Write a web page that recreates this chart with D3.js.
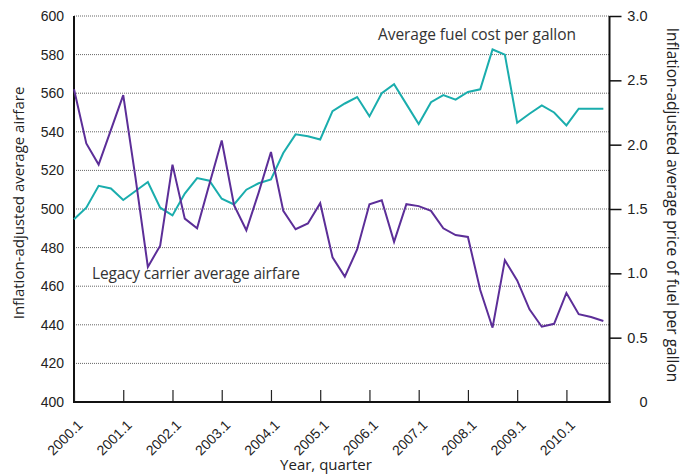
<!DOCTYPE html>
<html>
<head>
<meta charset="utf-8">
<script src="https://cdn.jsdelivr.net/npm/d3@7"></script>
<style>
  body { margin: 0; background: #fff; }
  svg { display: block; font-family: "Open Sans", sans-serif; }
</style>
</head>
<body>
<div id="vizcont"></div>
<script>
// quarters, 2000.1 .. 2010.4
var quarters = [
  "2000.1","2000.2","2000.3","2000.4","2001.1","2001.2","2001.3","2001.4",
  "2002.1","2002.2","2002.3","2002.4","2003.1","2003.2","2003.3","2003.4",
  "2004.1","2004.2","2004.3","2004.4","2005.1","2005.2","2005.3","2005.4",
  "2006.1","2006.2","2006.3","2006.4","2007.1","2007.2","2007.3","2007.4",
  "2008.1","2008.2","2008.3","2008.4","2009.1","2009.2","2009.3","2009.4",
  "2010.1","2010.2","2010.3","2010.4"
];
// legacy carrier average airfare (left axis)
var airfare = [
  562, 534, 523, 541, 559, 516, 470, 481,
  523, 495, 490, 513, 535.5, 502, 489, 508.5,
  529.5, 499, 489.5, 492.5, 503, 475, 465, 479,
  502.5, 504.5, 483, 502.5, 501.5, 499, 490, 486.5,
  485.5, 458, 438.5, 473.5, 463, 448, 439, 440.5,
  456.5, 445.5, 444, 442
];
// average fuel cost per gallon (right axis)
var fuel = [
  1.42, 1.51, 1.68, 1.66, 1.57, 1.64, 1.71, 1.51,
  1.45, 1.62, 1.74, 1.72, 1.58, 1.535, 1.65, 1.70,
  1.73, 1.935, 2.08, 2.065, 2.04, 2.26, 2.32, 2.37,
  2.22, 2.40, 2.47, 2.315, 2.16, 2.33, 2.385, 2.35,
  2.41, 2.43, 2.74, 2.70, 2.17, 2.24, 2.305, 2.25,
  2.15, 2.28, 2.28, 2.28
];
var leftTicks = [400, 420, 440, 460, 480, 500, 520, 540, 560, 580, 600];
var rightTicks = [0, 0.5, 1.0, 1.5, 2.0, 2.5, 3.0];
var xTickLabels = ["2000.1","2001.1","2002.1","2003.1","2004.1","2005.1","2006.1","2007.1","2008.1","2009.1","2010.1"];

var W = 683, H = 475;
var margin = {top: 16, right: 74, bottom: 73, left: 74};
var width = 609.5 - margin.left;
var height = 402 - margin.top;

var svg = d3.select("#vizcont").append("svg")
    .attr("width", W)
    .attr("height", H);
var g = svg.append("g")
    .attr("transform", "translate(" + margin.left + "," + margin.top + ")");

var x = d3.scaleLinear().domain([0, quarters.length - 0.5]).range([0, width]);
var y = d3.scaleLinear().domain([400, 600]).range([height, 0]);
var y2 = d3.scaleLinear().domain([0, 3]).range([height, 0]);

// dotted grid
g.selectAll(".grid")
  .data(leftTicks.filter(function(d) { return d > 400; }))
  .enter().append("line")
  .attr("class", "grid")
  .attr("x1", 0).attr("x2", width)
  .attr("y1", function(d) { return y(d); })
  .attr("y2", function(d) { return y(d); })
  .attr("stroke", "#666")
  .attr("stroke-width", 1)
  .attr("stroke-dasharray", "1,1");

// left axis: labels only
var axL = g.append("g")
  .call(d3.axisLeft(y).tickValues(leftTicks).tickSize(0).tickPadding(10));
axL.select(".domain").remove();
axL.selectAll("text").style("font-size", "14px").attr("fill", "#222");
g.append("line")
  .attr("x1", 0).attr("x2", 0).attr("y1", 0).attr("y2", height)
  .attr("stroke", "#111").attr("stroke-width", 2);

// right axis
var axR = g.append("g")
  .attr("transform", "translate(" + width + ",0)")
  .call(d3.axisRight(y2).tickValues(rightTicks).tickSize(12).tickPadding(4)
    .tickFormat(function(d) { return d === 0 ? "0" : d3.format(".1f")(d); }));
axR.select(".domain").remove();
axR.selectAll("line").attr("stroke", "#111").attr("stroke-width", 1.5)
  .filter(function(d) { return d === 0; }).remove();
axR.selectAll("text")
  .style("font-size", "14.5px").attr("fill", "#222")
  .attr("text-anchor", "end").attr("x", 38);
g.append("line")
  .attr("x1", width).attr("x2", width).attr("y1", 0).attr("y2", height + 1)
  .attr("stroke", "#111").attr("stroke-width", 2);

// bottom axis: inward ticks
var tickIdx = xTickLabels.map(function(l) { return quarters.indexOf(l); });
var axB = g.append("g")
  .attr("transform", "translate(0," + height + ")")
  .call(d3.axisBottom(x).tickValues(tickIdx).tickSize(-12)
    .tickFormat(function(d) { return quarters[d]; }));
axB.select(".domain").remove();
axB.selectAll("line").attr("stroke", "#222").attr("stroke-width", 1.2);
axB.selectAll("text")
  .style("font-size", "14px").attr("fill", "#222")
  .attr("text-anchor", "end")
  .attr("y", 0).attr("dy", 0)
  .attr("transform", "translate(9,24) rotate(-45)");
g.append("line")
  .attr("x1", -1).attr("x2", width + 1).attr("y1", height).attr("y2", height)
  .attr("stroke", "#111").attr("stroke-width", 2);

// lines
var lineFare = d3.line()
  .x(function(d, i) { return x(i); })
  .y(function(d) { return y(d); });
var lineFuel = d3.line()
  .x(function(d, i) { return x(i); })
  .y(function(d) { return y2(d); });

g.append("path").datum(fuel)
  .attr("d", lineFuel)
  .attr("fill", "none").attr("stroke", "#1aadad").attr("stroke-width", 2);
g.append("path").datum(airfare)
  .attr("d", lineFare)
  .attr("fill", "none").attr("stroke", "#5c2e98").attr("stroke-width", 2);

// series labels
svg.append("text")
  .attr("x", 378).attr("y", 40)
  .style("font-size", "15.5px").attr("fill", "#333")
  .attr("textLength", 198).attr("lengthAdjust", "spacing")
  .text("Average fuel cost per gallon");
svg.append("text")
  .attr("x", 92).attr("y", 279)
  .style("font-size", "15.5px").attr("fill", "#333")
  .attr("textLength", 208).attr("lengthAdjust", "spacing")
  .text("Legacy carrier average airfare");

// axis titles
svg.append("text")
  .attr("transform", "translate(24,203) rotate(-90)")
  .attr("text-anchor", "middle")
  .style("font-size", "15px").attr("fill", "#222")
  .text("Inflation-adjusted average airfare");
svg.append("text")
  .attr("transform", "translate(667,205) rotate(90)")
  .attr("text-anchor", "middle")
  .style("font-size", "15.5px").attr("fill", "#222")
  .text("Inflation-adjusted average price of fuel per gallon");
svg.append("text")
  .attr("x", 326).attr("y", 470)
  .attr("text-anchor", "middle")
  .style("font-size", "15px").attr("fill", "#222")
  .text("Year, quarter");
</script>
</body>
</html>
